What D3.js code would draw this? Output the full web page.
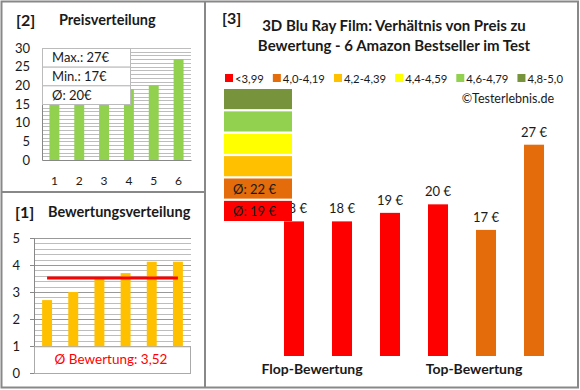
<!DOCTYPE html>
<html>
<head>
<meta charset="utf-8">
<script src="https://cdn.jsdelivr.net/npm/d3@7"></script>
<style>
  body { margin: 0; background: #fff; }
  svg { font-family: Lato, "Open Sans", sans-serif; }
</style>
</head>
<body>
<div id="chart"></div>
<script>
// price distribution (panel 2)
const priceCats = ["1", "2", "3", "4", "5", "6"];
const priceVals = [17, 18, 18, 19, 20, 27];
const priceTicks = [0, 5, 10, 15, 20, 25, 30];
const priceInfo = ["Max.: 27€", "Min.: 17€", "Ø: 20€"];

// rating distribution (panel 1)
const ratingVals = [2.7, 3.0, 3.5, 3.7, 4.12, 4.12];
const ratingTicks = [0, 1, 2, 3, 4, 5];
const ratingAvg = 3.52;

// main chart (panel 3)
const mainPrices = [18, 18, 19, 20, 17, 27];
const mainClass = ["<3,99", "<3,99", "<3,99", "<3,99", "4,0-4,19", "4,0-4,19"];
const legendLabels = ["<3,99", "4,0-4,19", "4,2-4,39", "4,4-4,59", "4,6-4,79", "4,8-5,0"];
const legendColors = ["#FF0000", "#E46C0A", "#FFC000", "#FFFF00", "#92D050", "#77933C"];
const groupLabels = ["Flop-Bewertung", "Top-Bewertung"];

const W = 580, H = 390;
const grey = "#888";
const grid = "#BDBDBD";
const txt = "#1a1a1a";

const svg = d3.select("#chart").append("svg")
  .attr("width", W).attr("height", H);

// panel frames
svg.append("rect").attr("x", 1.5).attr("y", 1.5).attr("width", 576.5).attr("height", 386)
  .attr("fill", "none").attr("stroke", grey).attr("stroke-width", 2);
svg.append("line").attr("x1", 205).attr("x2", 205).attr("y1", 1).attr("y2", 388)
  .attr("stroke", grey).attr("stroke-width", 2);
svg.append("line").attr("x1", 1).attr("x2", 205).attr("y1", 192).attr("y2", 192)
  .attr("stroke", grey).attr("stroke-width", 2);

// ---------- panel [2] Preisverteilung ----------
svg.append("text").attr("x", 16).attr("y", 26).attr("font-size", 16).attr("font-weight", "bold")
  .attr("fill", txt).text("[2]");
svg.append("text").attr("x", 59).attr("y", 25).attr("font-size", 14.5).attr("font-weight", "bold")
  .attr("fill", txt).text("Preisverteilung");

const x2 = d3.scaleBand().domain(priceCats).range([42, 191]).paddingInner(0.6).paddingOuter(0.3);
const y2 = d3.scaleLinear().domain([0, 30]).range([160, 48]);

svg.append("g").selectAll("line").data(d3.range(1, 31)).join("line")
  .attr("x1", 42).attr("x2", 191)
  .attr("y1", d => Math.round(y2(d)) + 0.5).attr("y2", d => Math.round(y2(d)) + 0.5)
  .attr("stroke", grid).attr("stroke-width", 1);

svg.append("g").selectAll("rect").data(priceVals).join("rect")
  .attr("x", (d, i) => x2(priceCats[i]))
  .attr("width", x2.bandwidth())
  .attr("y", d => y2(d))
  .attr("height", d => y2(0) - y2(d))
  .attr("fill", "#92D050");

const ax2 = svg.append("g").attr("transform", "translate(42,0)")
  .call(d3.axisLeft(y2).tickValues(priceTicks).tickSize(0).tickPadding(12));
ax2.select(".domain").attr("stroke", grey);
ax2.selectAll("text").attr("font-size", 13).attr("fill", txt).attr("font-family", "Lato, sans-serif");

const bx2 = svg.append("g").attr("transform", "translate(0,160)")
  .call(d3.axisBottom(x2).tickSize(0).tickPadding(16));
bx2.select(".domain").attr("stroke", grey);
bx2.selectAll("text").attr("font-size", 12).attr("fill", txt).attr("font-family", "Lato, sans-serif");

// info box
const infoY = d3.scaleBand().domain(priceInfo).range([48, 104]);
const info = svg.append("g");
info.selectAll("rect").data(priceInfo).join("rect")
  .attr("x", 42.5).attr("width", 88)
  .attr("y", d => infoY(d) + 0.5).attr("height", infoY.bandwidth())
  .attr("fill", "#fff").attr("stroke", "#BBB");
info.selectAll("text").data(priceInfo).join("text")
  .attr("x", 52).attr("y", d => infoY(d) + infoY.bandwidth() / 2 + 5)
  .attr("font-size", 13).attr("fill", txt).text(d => d);

// ---------- panel [1] Bewertungsverteilung ----------
svg.append("text").attr("x", 15).attr("y", 218).attr("font-size", 16).attr("font-weight", "bold")
  .attr("fill", txt).text("[1]");
svg.append("text").attr("x", 48).attr("y", 217).attr("font-size", 14.5).attr("font-weight", "bold")
  .attr("fill", txt).text("Bewertungsverteilung");

const x1 = d3.scaleBand().domain(priceCats).range([34, 191]).paddingInner(0.62).paddingOuter(0.31);
const y1 = d3.scaleLinear().domain([0, 5]).range([373, 238]);

svg.append("g").selectAll("line").data(d3.range(1, 26).map(d => d / 5)).join("line")
  .attr("x1", 34).attr("x2", 191)
  .attr("y1", d => Math.round(y1(d)) + 0.5).attr("y2", d => Math.round(y1(d)) + 0.5)
  .attr("stroke", d => Number.isInteger(d) ? "#999" : grid).attr("stroke-width", 1);

svg.append("g").selectAll("rect").data(ratingVals).join("rect")
  .attr("x", (d, i) => x1(priceCats[i]))
  .attr("width", x1.bandwidth())
  .attr("y", d => y1(d))
  .attr("height", d => y1(0) - y1(d))
  .attr("fill", "#FFC000");

const ax1 = svg.append("g").attr("transform", "translate(34,0)")
  .call(d3.axisLeft(y1).tickValues(ratingTicks).tickFormat(d3.format("d")).tickSize(4).tickPadding(10));
ax1.select(".domain").attr("stroke", grey);
ax1.selectAll(".tick line").attr("stroke", grey);
ax1.selectAll("text").attr("font-size", 13).attr("fill", txt).attr("font-family", "Lato, sans-serif");

// average line
svg.append("line")
  .attr("x1", x1(priceCats[0]) + x1.bandwidth() / 2)
  .attr("x2", x1(priceCats[5]) + x1.bandwidth() / 2)
  .attr("y1", y1(ratingAvg)).attr("y2", y1(ratingAvg))
  .attr("stroke", "#FF0000").attr("stroke-width", 3);

// rating box
svg.append("rect").attr("x", 34.5).attr("y", y1(0.99) + 0.5).attr("width", 156)
  .attr("height", y1(0) - y1(0.99))
  .attr("fill", "#fff").attr("stroke", "#AAA");
svg.append("text").attr("x", 111).attr("y", 364).attr("text-anchor", "middle")
  .attr("font-size", 13.5).attr("fill", "#FF0000")
  .text("Ø Bewertung: " + d3.format(".2f")(ratingAvg).replace(".", ","));

// ---------- panel [3] main ----------
svg.append("text").attr("x", 222).attr("y", 24).attr("font-size", 16).attr("font-weight", "bold")
  .attr("fill", txt).text("[3]");
svg.append("text").attr("x", 394).attr("y", 31).attr("text-anchor", "middle")
  .attr("font-size", 15).attr("font-weight", "bold").attr("fill", txt)
  .text("3D Blu Ray Film: Verhältnis von Preis zu");
svg.append("text").attr("x", 394).attr("y", 51).attr("text-anchor", "middle")
  .attr("font-size", 15).attr("font-weight", "bold").attr("fill", txt)
  .text("Bewertung - 6 Amazon Bestseller im Test");

const color = d3.scaleOrdinal().domain(legendLabels).range(legendColors);

// legend: items laid out one after another, spread to fit 225..563
const leg = svg.append("g").attr("transform", "translate(225,74)");
const legItems = legendLabels.map(l => {
  const g = leg.append("g");
  g.append("rect").attr("width", 8).attr("height", 8).attr("fill", color(l));
  const t = g.append("text").attr("x", 10).attr("y", 8.5).attr("font-size", 11.3)
    .attr("fill", txt).text(l);
  return { g, w: 10 + t.node().getComputedTextLength() };
});
const legGap = Math.max(2, (338 - d3.sum(legItems, d => d.w)) / (legItems.length - 1));
let legPos = 0;
legItems.forEach(it => {
  it.g.attr("transform", `translate(${legPos},0)`);
  legPos += it.w + legGap;
});

svg.append("text").attr("x", 554).attr("y", 103).attr("text-anchor", "end")
  .attr("font-size", 12.5).attr("fill", txt).text("©Testerlebnis.de");

// bars
const xm = d3.scaleBand().domain(d3.range(mainPrices.length)).range([256, 572])
  .paddingInner(0.583).paddingOuter(0.583);
const ym = d3.scaleLinear().domain([2.2, 27]).range([356, 144.7]);

svg.append("g").selectAll("rect").data(mainPrices).join("rect")
  .attr("x", (d, i) => xm(i))
  .attr("width", xm.bandwidth())
  .attr("y", d => ym(d))
  .attr("height", d => ym(2.2) - ym(d))
  .attr("fill", (d, i) => color(mainClass[i]));

svg.append("g").selectAll("text").data(mainPrices).join("text")
  .attr("x", (d, i) => xm(i) + xm.bandwidth() / 2)
  .attr("y", d => ym(d) - 8)
  .attr("text-anchor", "middle").attr("font-size", 13).attr("fill", txt)
  .text(d => d + " €");

// group labels
const grpX = d3.scalePoint().domain(groupLabels).range([312, 474]);
svg.append("g").selectAll("text").data(groupLabels).join("text")
  .attr("x", d => grpX(d)).attr("y", 374)
  .attr("text-anchor", "middle").attr("font-size", 14).attr("font-weight", "bold")
  .attr("fill", txt).text(d => d);

// colour stack with averages
const stackOrder = legendLabels.slice().reverse();
const sy = d3.scaleBand().domain(stackOrder).range([89, 221]).paddingInner(0.1);
const avgByClass = d3.rollup(mainPrices.map((p, i) => ({ p, c: mainClass[i] })),
  v => d3.mean(v, d => d.p), d => d.c);
const st = svg.append("g").selectAll("g").data(stackOrder).join("g");
st.append("rect").attr("x", 224).attr("width", 68)
  .attr("y", d => sy(d)).attr("height", sy.bandwidth())
  .attr("fill", d => color(d));
st.filter(d => avgByClass.has(d)).append("text")
  .attr("x", 233).attr("y", d => sy(d) + sy.bandwidth() / 2 + 5)
  .attr("font-size", 13).attr("fill", txt)
  .text(d => "Ø: " + Math.round(avgByClass.get(d)) + " €");
</script>
</body>
</html>
